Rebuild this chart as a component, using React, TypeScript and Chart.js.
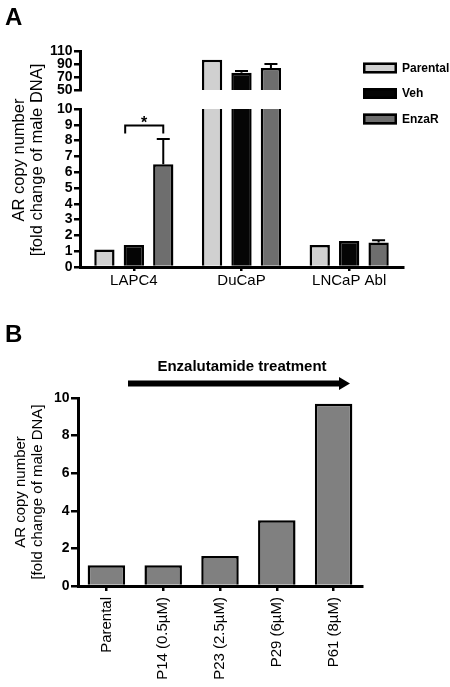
import React, { useEffect, useRef } from 'react';
import { Chart, registerables } from 'chart.js';

Chart.register(...registerables);

// ---------- data ----------
const panelACategories = ['LAPC4', 'DuCaP', 'LNCaP Abl'];
const seriesNames = ['Parental', 'Veh', 'EnzaR'];
const parentalValues = [1.1, 96.5, 1.4];
const vehValues = [1.4, 76.5, 1.65];
const enzaRValues = [6.5, 84, 1.55];
const parentalErrors = [0, 0, 0];
const vehErrors = [0, 3, 0];
const enzaRErrors = [1.6, 6, 0.15];
const upperTickValues = [50, 70, 90, 110];
const lowerTickValues = [0, 1, 2, 3, 4, 5, 6, 7, 8, 9, 10];

const panelBCategories = ['Parental', 'P14 (0.5µM)', 'P23 (2.5µM)', 'P29 (6µM)', 'P61 (8µM)'];
const panelBValues = [1.1, 1.1, 1.6, 3.5, 9.7];
const panelBTickValues = [0, 2, 4, 6, 8, 10];

const yTitleLines = ['AR copy number', '[fold change of male DNA]'];
const treatmentLabel = 'Enzalutamide treatment';
const significanceLabel = '*';

// ---------- styles ----------
const FONT = "'Liberation Sans', Arial, Helvetica, sans-serif";
const SERIES_COLORS = ['#d0d0d0', '#050505', '#6e6e6e'];
const B_COLOR = '#808080';

const seriesValues = [parentalValues, vehValues, enzaRValues];
const seriesErrors = [parentalErrors, vehErrors, enzaRErrors];

function setTicks(values: number[]) {
  return (scale: any) => {
    scale.ticks = values.map((v) => ({ value: v }));
  };
}

const errorBarPlugin = {
  id: 'errorBars',
  afterDatasetsDraw(chart: any) {
    const { ctx, chartArea, scales } = chart;
    const y = scales.y;
    ctx.save();
    ctx.beginPath();
    ctx.rect(chartArea.left, chartArea.top - 1, chartArea.right - chartArea.left, chartArea.bottom - chartArea.top + 1);
    ctx.clip();
    ctx.strokeStyle = '#000';
    ctx.lineWidth = 2;
    chart.data.datasets.forEach((ds: any, i: number) => {
      const meta = chart.getDatasetMeta(i);
      const errs = seriesErrors[i];
      meta.data.forEach((bar: any, j: number) => {
        const err = errs[j];
        if (!err) return;
        const v = ds.data[j];
        const y0 = y.getPixelForValue(v);
        const y1 = y.getPixelForValue(v + err);
        ctx.beginPath();
        ctx.moveTo(bar.x, y0);
        ctx.lineTo(bar.x, y1);
        ctx.moveTo(bar.x - 6.5, y1);
        ctx.lineTo(bar.x + 6.5, y1);
        ctx.stroke();
      });
    });
    ctx.restore();
  },
};

function drawRotatedLines(ctx: CanvasRenderingContext2D, lines: string[], xs: number[], cy: number, size: number) {
  ctx.font = `${size}px ${FONT}`;
  ctx.fillStyle = '#000';
  ctx.textAlign = 'center';
  ctx.textBaseline = 'middle';
  lines.forEach((line, i) => {
    ctx.save();
    ctx.translate(xs[i], cy);
    ctx.rotate(-Math.PI / 2);
    ctx.fillText(line, 0, 0);
    ctx.restore();
  });
}

const panelADecor = {
  id: 'panelADecor',
  afterDraw(chart: any) {
    const { ctx, chartArea, scales } = chart;
    const y = scales.y;
    ctx.save();
    // panel letter
    ctx.fillStyle = '#000';
    ctx.font = `bold 24px ${FONT}`;
    ctx.textAlign = 'left';
    ctx.textBaseline = 'alphabetic';
    ctx.fillText('A', 5, 25);

    // y-axis title (spans the broken axis)
    drawRotatedLines(ctx, yTitleLines, [19, 37], 160, 16.5);

    // legend
    const lx = chartArea.right - 40;
    const ly0 = 62.5;
    const bw = 34;
    const bh = 11;
    const gap = 25.5;
    chart.data.datasets.forEach((ds: any, i: number) => {
      const yy = ly0 + i * gap;
      ctx.fillStyle = ds.backgroundColor;
      ctx.fillRect(lx, yy, bw, bh);
      ctx.strokeStyle = '#000';
      ctx.lineWidth = 2.5;
      ctx.strokeRect(lx + 1.25, yy + 1.25, bw - 2.5, bh - 2.5);
      ctx.fillStyle = '#000';
      ctx.font = `bold 12px ${FONT}`;
      ctx.textAlign = 'left';
      ctx.textBaseline = 'middle';
      ctx.fillText(ds.label, lx + bw + 5, yy + bh / 2 + 0.5);
    });

    // significance bracket (Veh vs EnzaR, LAPC4)
    const vehBar: any = chart.getDatasetMeta(1).data[0];
    const enzBar: any = chart.getDatasetMeta(2).data[0];
    const x1 = vehBar.x - vehBar.width / 2 + 1.5;
    const x2 = enzBar.x;
    const top = y.getPixelForValue(8.95);
    const legBottom = y.getPixelForValue(8.45);
    ctx.strokeStyle = '#000';
    ctx.lineWidth = 2;
    ctx.beginPath();
    ctx.moveTo(x1, legBottom);
    ctx.lineTo(x1, top);
    ctx.lineTo(x2, top);
    ctx.lineTo(x2, legBottom);
    ctx.stroke();
    ctx.fillStyle = '#000';
    ctx.font = `bold 16px ${FONT}`;
    ctx.textAlign = 'center';
    ctx.textBaseline = 'alphabetic';
    ctx.fillText(significanceLabel, (x1 + x2) / 2, top + 2.5);
    ctx.restore();
  },
};

const panelBDecor = {
  id: 'panelBDecor',
  afterDraw(chart: any) {
    const { ctx, chartArea } = chart;
    ctx.save();
    ctx.fillStyle = '#000';
    ctx.font = `bold 24px ${FONT}`;
    ctx.textAlign = 'left';
    ctx.textBaseline = 'alphabetic';
    ctx.fillText('B', 5, 42);

    const x0 = chartArea.left + 50;
    const x1 = chartArea.right - 12;
    const yc = 83.5;
    ctx.font = `bold 15px ${FONT}`;
    ctx.textAlign = 'center';
    ctx.fillText(treatmentLabel, (x0 + x1) / 2 + 3, 71);

    ctx.fillRect(x0, yc - 3, x1 - 10 - x0, 6);
    ctx.beginPath();
    ctx.moveTo(x1 - 11, yc - 6.5);
    ctx.lineTo(x1, yc);
    ctx.lineTo(x1 - 11, yc + 6.5);
    ctx.closePath();
    ctx.fill();
    ctx.restore();
  },
};

function barDatasets() {
  return seriesNames.map((name, i) => ({
    label: name,
    data: seriesValues[i],
    backgroundColor: SERIES_COLORS[i],
    borderColor: '#000',
    borderWidth: 2.5,
    borderSkipped: 'start' as const,
    clip: 0,
    categoryPercentage: 0.82,
    barPercentage: 0.69,
  }));
}

const yTickFont = { family: FONT, size: 14, weight: 'bold' as const };
const tickGrid = (len: number) => ({
  display: true,
  drawOnChartArea: false,
  drawTicks: true,
  tickLength: len,
  color: '#000',
  lineWidth: 2.5,
  offset: false,
});
const axisBorder = { display: true, color: '#000', width: 3, z: 1 };

export default function App() {
  const upperRef = useRef<HTMLCanvasElement>(null);
  const lowerRef = useRef<HTMLCanvasElement>(null);
  const bRef = useRef<HTMLCanvasElement>(null);

  useEffect(() => {
    document.body.style.margin = '0';
    Chart.defaults.color = '#000';
    Chart.defaults.font.family = FONT;

    const upper = new Chart(upperRef.current as HTMLCanvasElement, {
      type: 'bar',
      data: { labels: panelACategories, datasets: barDatasets() as any },
      options: {
        responsive: true,
        maintainAspectRatio: false,
        animation: false,
        layout: { padding: { top: 11, bottom: 9, left: 0, right: 47 } },
        plugins: { legend: { display: false }, tooltip: { enabled: false } },
        scales: {
          x: { display: false },
          y: {
            min: 50,
            max: 110,
            beginAtZero: false,
            afterBuildTicks: setTicks(upperTickValues),
            afterFit: (s: any) => {
              s.width = 80;
            },
            ticks: { font: yTickFont, padding: 1.5, autoSkip: false, color: '#000' },
            grid: tickGrid(6),
            border: axisBorder,
          },
        },
      } as any,
      plugins: [errorBarPlugin],
    });

    const lower = new Chart(lowerRef.current as HTMLCanvasElement, {
      type: 'bar',
      data: { labels: panelACategories, datasets: barDatasets() as any },
      options: {
        responsive: true,
        maintainAspectRatio: false,
        animation: false,
        layout: { padding: { top: 109, bottom: 8, left: 0, right: 47 } },
        plugins: { legend: { display: false }, tooltip: { enabled: false } },
        scales: {
          x: {
            afterFit: (s: any) => {
              s.height = 25;
            },
            ticks: { font: { family: FONT, size: 15 }, padding: 1, color: '#000', maxRotation: 0, autoSkip: false },
            grid: tickGrid(4),
            border: axisBorder,
          },
          y: {
            min: 0,
            max: 10,
            afterBuildTicks: setTicks(lowerTickValues),
            afterFit: (s: any) => {
              s.width = 80;
            },
            ticks: { font: yTickFont, padding: 1.5, autoSkip: false, color: '#000' },
            grid: tickGrid(6),
            border: axisBorder,
          },
        },
      } as any,
      plugins: [errorBarPlugin, panelADecor],
    });

    const bChart = new Chart(bRef.current as HTMLCanvasElement, {
      type: 'bar',
      data: {
        labels: panelBCategories,
        datasets: [
          {
            label: 'AR copy number',
            data: panelBValues,
            backgroundColor: B_COLOR,
            borderColor: '#000',
            borderWidth: 2.5,
            borderSkipped: 'start',
            categoryPercentage: 0.66,
            barPercentage: 1,
          },
        ],
      },
      options: {
        responsive: true,
        maintainAspectRatio: false,
        animation: false,
        layout: { padding: { top: 98, bottom: 6, left: 0, right: 88 } },
        plugins: { legend: { display: false }, tooltip: { enabled: false } },
        scales: {
          x: {
            afterFit: (s: any) => {
              s.height = 95;
            },
            ticks: {
              font: { family: FONT, size: 15 },
              padding: 6,
              color: '#000',
              minRotation: 90,
              maxRotation: 90,
              autoSkip: false,
            },
            grid: tickGrid(5),
            border: axisBorder,
          },
          y: {
            min: 0,
            max: 10,
            afterBuildTicks: setTicks(panelBTickValues),
            afterFit: (s: any) => {
              s.width = 78;
            },
            title: {
              display: true,
              text: yTitleLines,
              font: { family: FONT, size: 15, lineHeight: 1.1 },
              color: '#000',
              padding: { top: 12.75, bottom: 0 },
            },
            ticks: { font: yTickFont, padding: 1.5, autoSkip: false, color: '#000' },
            grid: tickGrid(7),
            border: axisBorder,
          },
        },
      } as any,
      plugins: [panelBDecor],
    });

    return () => {
      upper.destroy();
      lower.destroy();
      bChart.destroy();
    };
  }, []);

  return (
    <div style={{ position: 'relative', width: 450, height: 687, background: '#fff', overflow: 'hidden' }}>
      <div style={{ position: 'absolute', left: 0, top: 0, width: 450, height: 300 }}>
        <canvas ref={lowerRef} />
      </div>
      <div style={{ position: 'absolute', left: 0, top: 40, width: 450, height: 60 }}>
        <canvas ref={upperRef} />
      </div>
      <div style={{ position: 'absolute', left: 0, top: 300, width: 450, height: 387 }}>
        <canvas ref={bRef} />
      </div>
    </div>
  );
}
